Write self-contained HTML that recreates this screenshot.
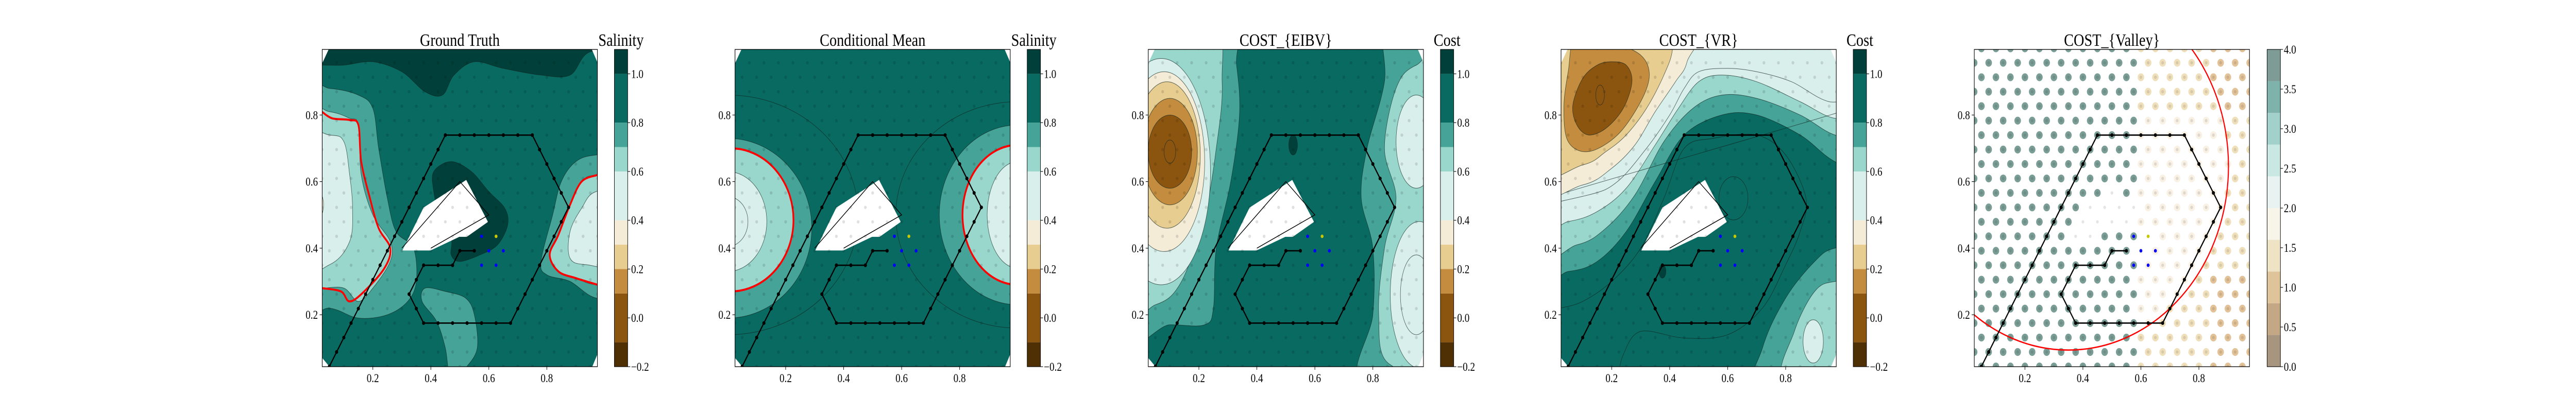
<!DOCTYPE html>
<html><head><meta charset="utf-8"><style>
html,body{margin:0;padding:0;background:#fff;width:100%;height:100%;overflow:hidden;}
svg{display:block;position:absolute;left:0;top:0;width:100vw;height:100vh;font-family:"Liberation Serif","DejaVu Serif",serif;}
</style></head><body>
<svg id="fig" xmlns="http://www.w3.org/2000/svg" viewBox="0 0 6000 800" preserveAspectRatio="none" overflow="hidden">
<rect width="6000" height="800" fill="#fff"/>
</svg>
<script>
const NS='http://www.w3.org/2000/svg';
const svg=document.getElementById('fig');
// ---- data ----
const cols=['#4f3005','#8c550f','#c48c3f','#e7cd90','#f5ecd8','#d9efeb','#99d6cc','#46a398','#086a61','#01403a'];
const cbLevels=[-0.2,-0.1,0.1,0.2,0.3,0.4,0.6,0.7,0.8,1.0,1.1];
const cbTicks=[-0.2,0.0,0.2,0.4,0.6,0.8,1.0];
const cbTickLabels=['\u22120.2','0.0','0.2','0.4','0.6','0.8','1.0'];
const cb5Colors=['#a89580','#c4a785','#dfc49b','#efe3c6','#f7f4ea','#e8f3f1','#c9e8e3','#a2d0cb','#7eb2ab','#7e9c95'];
const cb5Ticks=[0,0.5,1.0,1.5,2.0,2.5,3.0,3.5,4.0];
const cb5TickLabels=['0.0','0.5','1.0','1.5','2.0','2.5','3.0','3.5','4.0'];
const axTicks=[0.2,0.4,0.6,0.8];
const axTickLabels=['0.2','0.4','0.6','0.8'];
const pathVerts=[[0.05,-16],[0.45,0],[0.75,0],[0.875,-5],[0.675,-13],[0.375,-13],[0.325,-11],[0.375,-9],[0.475,-9],[0.5,-8],[0.55,-8]];
const blueDots=[[0.575,-7],[0.6,-8],[0.65,-8],[0.575,-9],[0.625,-9]];
const yellowDot=[0.625,-7];
const obstacle=[[0.302,0.393],[0.399,0.393],[0.498,0.434],[0.524,0.434],[0.597,0.479],[0.522,0.605],[0.375,0.522]];
const obstacleLine=[[0.3,0.4],[0.5,0.6],[0.6,0.5],[0.4,0.4]];
const gtLayers=[
 {c:9,p:[[-0.1,1.1],[1.1,1.1],[1.1,0.98],[0.95,0.99],[0.88,0.92],[0.78,0.92],[0.65,0.94],[0.55,0.96],[0.48,0.92],[0.44,0.86],[0.38,0.87],[0.3,0.93],[0.2,0.96],[0.1,0.95],[0.02,0.95],[-0.1,0.95]]},
 {c:7,p:[[-0.1,0.88],[0.05,0.88],[0.15,0.86],[0.2,0.82],[0.22,0.7],[0.25,0.55],[0.28,0.45],[0.34,0.4],[0.35,0.3],[0.32,0.24],[0.25,0.2],[0.15,0.19],[0.05,0.22],[-0.1,0.22]]},
 {c:6,p:[[-0.1,0.82],[0.05,0.81],[0.12,0.79],[0.15,0.77],[0.16,0.62],[0.2,0.5],[0.26,0.42],[0.26,0.36],[0.2,0.28],[0.15,0.24],[0.1,0.28],[0.02,0.28],[-0.1,0.28]]},
 {c:5,p:[[-0.1,0.74],[0.05,0.74],[0.1,0.72],[0.12,0.62],[0.13,0.52],[0.12,0.42],[0.05,0.35],[-0.1,0.33]]},
 {c:7,p:[[1.1,0.68],[0.97,0.68],[0.9,0.66],[0.85,0.6],[0.82,0.5],[0.78,0.36],[0.8,0.32],[0.88,0.3],[0.97,0.25],[1.1,0.25]]},
 {c:6,p:[[1.1,0.62],[0.97,0.62],[0.92,0.6],[0.88,0.53],[0.84,0.44],[0.81,0.38],[0.84,0.33],[0.9,0.31],[0.97,0.29],[1.1,0.29]]},
 {c:5,p:[[1.1,0.57],[0.97,0.57],[0.92,0.52],[0.88,0.45],[0.88,0.37],[0.94,0.35],[1.1,0.35]]},
 {c:9,p:[[0.41,0.63],[0.47,0.66],[0.54,0.63],[0.6,0.57],[0.655,0.52],[0.665,0.47],[0.63,0.41],[0.57,0.38],[0.5,0.36],[0.47,0.38],[0.47,0.43],[0.43,0.5],[0.41,0.57]]},
 {c:7,p:[[0.38,0.28],[0.45,0.27],[0.52,0.25],[0.55,0.2],[0.56,0.1],[0.52,0.04],[0.47,0.0],[0.45,0.1],[0.42,0.18],[0.37,0.24]]},
 {c:4,e:[0.02,0.53,0.01,0.03]}
];
const gtRed=[
 [[0.024,0.81],[0.06,0.79],[0.12,0.785],[0.15,0.77],[0.16,0.66],[0.19,0.55],[0.22,0.46],[0.26,0.4],[0.24,0.34],[0.17,0.27],[0.12,0.24],[0.09,0.27],[0.024,0.28]],
 [[0.975,0.62],[0.92,0.6],[0.88,0.53],[0.84,0.44],[0.81,0.38],[0.84,0.33],[0.9,0.31],[0.975,0.29]]
];
const cmLayers=[
 {c:-1,e:[0.0,0.5,0.45,0.36]},
 {c:-1,e:[1.0,0.5,0.42,0.34]},
 {c:7,e:[0.0,0.46,0.29,0.27]},
 {c:6,e:[0.01,0.485,0.217,0.215]},
 {c:5,e:[0.0,0.48,0.135,0.15]},
 {c:-1,e:[0.0,0.48,0.07,0.075]},
 {c:7,e:[1.0,0.5,0.27,0.27]},
 {c:6,e:[1.0,0.5,0.19,0.21]},
 {c:5,e:[1.0,0.5,0.105,0.16]}
];
const cmRedE=[[0.01,0.485,0.217,0.215],[1.0,0.5,0.19,0.21]];
const eibvLayers=[
 {c:7,p:[[-0.1,1.1],[0.3,1.1],[0.33,0.95],[0.34,0.8],[0.31,0.6],[0.26,0.4],[0.25,0.22],[0.22,0.17],[0.1,0.17],[-0.1,0.17]]},
 {c:6,p:[[-0.1,1.1],[0.24,1.1],[0.28,0.9],[0.26,0.7],[0.22,0.5],[0.14,0.3],[0.05,0.23],[-0.1,0.23]]},
 {c:5,e:[0.07,0.63,0.17,0.34]},
 {c:4,e:[0.08,0.66,0.14,0.27]},
 {c:3,e:[0.09,0.68,0.115,0.22]},
 {c:2,e:[0.1,0.69,0.095,0.16]},
 {c:1,e:[0.1,0.69,0.075,0.11]},
 {c:-1,e:[0.1,0.69,0.02,0.035]},
 {c:7,p:[[1.1,1.1],[0.85,1.1],[0.84,0.9],[0.78,0.7],[0.76,0.55],[0.8,0.4],[0.8,0.2],[0.76,0.0],[1.1,0.0]]},
 {c:6,p:[[1.1,0.97],[0.95,0.95],[0.88,0.88],[0.84,0.7],[0.88,0.55],[0.84,0.4],[0.82,0.2],[0.86,0.05],[1.1,0.05]]},
 {c:5,e:[0.95,0.72,0.07,0.14]},
 {c:5,e:[0.96,0.26,0.1,0.22]},
 {c:-1,e:[0.95,0.26,0.055,0.12]},
 {c:9,e:[0.525,0.71,0.015,0.03]}
];
const vrLayers=[
 {c:7,p:[[-0.1,1.1],[1.1,1.1],[1.1,0.63],[0.97,0.66],[0.85,0.74],[0.7,0.8],[0.58,0.8],[0.45,0.74],[0.35,0.6],[0.25,0.45],[0.15,0.36],[0.05,0.33],[-0.1,0.33]]},
 {c:6,p:[[-0.1,1.1],[1.1,1.1],[1.1,0.73],[0.97,0.74],[0.85,0.8],[0.7,0.85],[0.58,0.86],[0.48,0.82],[0.38,0.72],[0.28,0.56],[0.18,0.46],[0.08,0.41],[-0.1,0.4]]},
 {c:5,p:[[-0.1,1.1],[1.1,1.1],[1.1,0.8],[0.97,0.79],[0.85,0.84],[0.7,0.9],[0.58,0.92],[0.5,0.9],[0.43,0.82],[0.35,0.71],[0.25,0.58],[0.15,0.51],[0.05,0.48],[-0.1,0.47]]},
 {c:-1,p:[[1.1,0.84],[0.95,0.84],[0.82,0.9],[0.7,0.93],[0.6,0.94],[0.5,0.93],[0.45,0.88],[0.4,0.8],[0.32,0.7],[0.22,0.6],[0.12,0.56],[-0.1,0.53]]},
 {c:4,p:[[-0.1,1.1],[0.48,1.1],[0.46,0.96],[0.42,0.9],[0.35,0.81],[0.28,0.71],[0.2,0.64],[0.1,0.59],[-0.1,0.58]]},
 {c:3,p:[[-0.1,1.1],[0.4,1.1],[0.41,1.0],[0.38,0.92],[0.32,0.82],[0.25,0.74],[0.18,0.69],[0.1,0.65],[-0.1,0.63]]},
 {c:2,p:[[0.08,1.05],[0.2,1.02],[0.3,0.98],[0.33,0.92],[0.3,0.84],[0.22,0.74],[0.12,0.69],[0.05,0.72],[0.035,0.82],[0.05,0.93]]},
 {c:1,p:[[0.2,0.96],[0.25,0.95],[0.27,0.9],[0.24,0.82],[0.18,0.76],[0.12,0.74],[0.08,0.77],[0.066,0.83],[0.1,0.91],[0.15,0.95]]},
 {c:-1,e:[0.16,0.86,0.015,0.03]},
 {c:7,p:[[1.1,0.4],[0.97,0.4],[0.9,0.36],[0.8,0.25],[0.72,0.1],[0.68,-0.1],[1.1,-0.1]]},
 {c:6,p:[[1.1,0.3],[0.97,0.3],[0.9,0.27],[0.83,0.15],[0.8,0.0],[1.1,0.0]]},
 {c:5,e:[0.895,0.12,0.035,0.065]},
 {c:-1,e:[0.62,0.55,0.05,0.065]},
 {c:-1,p:[[0.024,0.22],[0.1,0.24],[0.2,0.3],[0.3,0.4],[0.38,0.55],[0.45,0.7],[0.55,0.73],[0.7,0.74],[0.8,0.68],[0.87,0.55],[0.85,0.45],[0.8,0.35],[0.72,0.22],[0.6,0.14],[0.45,0.13],[0.3,0.15],[0.24,0.08],[0.22,0.0]],open:true},
 {c:9,e:[0.375,0.33,0.012,0.02]}
];
const valleyMissing=[[0.425,-5],[0.475,-5],[0.525,-5],[0.575,-5],[0.4,-6],[0.45,-6],[0.5,-6],[0.55,-6],[0.375,-7],[0.425,-7],[0.5,-4],[0.6,-8],[0.625,-7]];
const valleyCircle=[0.35,0.646,0.552];
const valleySplitX=0.58;
// ---- layout ----
const TOP=96,H=616,W=641,YD=[0.044,0.997],XD=[0.0254,0.9745];
const panels=[
 {id:'ground-truth',left:750.5,title:'Ground Truth',cbt:'Salinity',layers:gtLayers},
 {id:'conditional-mean',left:1712,title:'Conditional Mean',cbt:'Salinity',layers:cmLayers},
 {id:'cost-eibv',left:2674.5,title:'COST_{EIBV}',cbt:'Cost',layers:eibvLayers},
 {id:'cost-vr',left:3636,title:'COST_{VR}',cbt:'Cost',layers:vrLayers},
 {id:'cost-valley',left:4598.5,title:'COST_{Valley}',cbt:'',layers:null}
];
function mk(tag,attrs,parent){const el=document.createElementNS(NS,tag);for(const k in attrs)el.setAttribute(k,attrs[k]);(parent||svg).appendChild(el);return el;}
function rowY(k){return 0.7397+0.04344*k;}
function smooth(P,closed){
 const n=P.length;let d='M'+P[0][0].toFixed(1)+','+P[0][1].toFixed(1);
 const seg=closed?n:n-1;
 for(let i=0;i<seg;i++){
  const p0=closed?P[(i-1+n)%n]:P[Math.max(i-1,0)],p1=P[i],p2=P[(i+1)%n],p3=closed?P[(i+2)%n]:P[Math.min(i+2,n-1)];
  const c1=[p1[0]+(p2[0]-p0[0])/6,p1[1]+(p2[1]-p0[1])/6],c2=[p2[0]-(p3[0]-p1[0])/6,p2[1]-(p3[1]-p1[1])/6];
  d+='C'+c1[0].toFixed(1)+','+c1[1].toFixed(1)+' '+c2[0].toFixed(1)+','+c2[1].toFixed(1)+' '+p2[0].toFixed(1)+','+p2[1].toFixed(1);
 }
 return d+(closed?'Z':'');
}
function txt(s,x,y,size,anchor,name){const t=mk('text',{x:x,y:y,'font-size':size,'text-anchor':anchor,fill:'#000'});t.textContent=s;
 
 
 return t;}

panels.forEach((pn,pi)=>{
 const X=v=>pn.left+(v-XD[0])/(XD[1]-XD[0])*W;
 const Y=v=>TOP+(YD[1]-v)/(YD[1]-YD[0])*H;
 const sx=W/(XD[1]-XD[0]),sy=H/(YD[1]-YD[0]);
 const g=mk('g',{});
 
 
 const cp=mk('clipPath',{id:'clip'+pi},g);
 mk('rect',{x:pn.left,y:TOP,width:W,height:H},cp);
 const plot=mk('g',{'clip-path':'url(#clip'+pi+')'},g);
 
 
 if(pn.layers){
  const base=mk('rect',{x:pn.left,y:TOP,width:W,height:H,fill:cols[8]},plot);
  
  
  pn.layers.forEach(L=>{
   const fill=L.c<0?'none':cols[L.c];
   let el;
   if(L.e){el=mk('ellipse',{cx:X(L.e[0]),cy:Y(L.e[1]),rx:L.e[2]*sx,ry:L.e[3]*sy,fill:fill,stroke:'#102420','stroke-width':1,'stroke-opacity':0.7},plot);}
   else{el=mk('path',{d:smooth(L.p.map(p=>[X(p[0]),Y(p[1])]),!L.open),fill:fill,stroke:'#102420','stroke-width':1,'stroke-opacity':0.7},plot);}
   
   
  });
  if(pi===0){gtRed.forEach(r=>{const el=mk('path',{d:smooth(r.map(p=>[X(p[0]),Y(p[1])]),false),fill:'none',stroke:'#ff0000','stroke-width':4},plot);
   
   });}
  if(pi===1){cmRedE.forEach(e=>{const el=mk('ellipse',{cx:X(e[0]),cy:Y(e[1]),rx:e[2]*sx,ry:e[3]*sy,fill:'none',stroke:'#ff0000','stroke-width':4},plot);
   
   });}
  const ob=mk('polygon',{points:obstacle.map(p=>X(p[0])+','+Y(p[1])).join(' '),fill:'#fff'},plot);
  
  
  const ol=mk('polyline',{points:obstacleLine.map(p=>X(p[0])+','+Y(p[1])).join(' '),fill:'none',stroke:'#000','stroke-width':1.5},plot);
  
  
  const L=pn.left,R=pn.left+W,B=TOP+H;
  [[L,TOP,L+15,TOP,L,TOP+27],[L,B,L,B-17,L+17,B],[R,TOP,R-13,TOP,R,TOP+25],[R,B,R,B-24,R-12,B]].forEach(c=>{
   const el=mk('polygon',{points:c[0]+','+c[1]+' '+c[2]+','+c[3]+' '+c[4]+','+c[5],fill:'#fff'},plot);
   
   
  });
 } else {
  for(let k=-16;k<=6;k++){
   const off=(k%2===0)?0:0.025;
   for(let x=off;x<=1.0001;x+=0.05){
    const xv=Math.round(x*1000)/1000,y=rowY(k);
    if(valleyMissing.some(m=>Math.abs(m[0]-xv)<1e-6&&m[1]===k))continue;
    let col;
    const inC=Math.pow((xv-valleyCircle[0])/valleyCircle[2],2)+Math.pow((y-valleyCircle[1])/valleyCircle[2],2)<1;
    if(xv<valleySplitX)col='#6f958c';
    else if(inC&&y<0.82)col='#f7f0e2';
    else if(!inC&&xv>=0.84&&(y>0.8||y<0.33))col='#dfbd8f';
    else col='#eedcb5';
    const d=mk('circle',{cx:X(xv),cy:Y(y),r:7.6,fill:col,'fill-opacity':0.92},plot);
    
    
   }
  }
  const rc=mk('ellipse',{cx:X(valleyCircle[0]),cy:Y(valleyCircle[1]),rx:valleyCircle[2]*sx,ry:valleyCircle[2]*sy,fill:'none',stroke:'#ff0000','stroke-width':2.6},plot);
  
  
 }
 for(let k=-16;k<=6;k++){
  const off=(k%2===0)?0:0.025;
  for(let x=off;x<=1.0001;x+=0.05){
   const d=mk('circle',{cx:X(x),cy:Y(rowY(k)),r:3.2,fill:'#000','fill-opacity':pn.layers?0.12:0.1},plot);
   
   
  }
 }
 const pts=[];
 for(let i=0;i<pathVerts.length-1;i++){
  const a=pathVerts[i],b=pathVerts[i+1];
  const n=Math.round(Math.max(Math.abs(b[1]-a[1]),Math.abs(b[0]-a[0])/0.05));
  for(let s=0;s<n;s++)pts.push([a[0]+(b[0]-a[0])*s/n,a[1]+(b[1]-a[1])*s/n]);
 }
 pts.push(pathVerts[pathVerts.length-1]);
 const pl=mk('polyline',{points:pts.map(p=>X(p[0])+','+Y(rowY(p[1]))).join(' '),fill:'none',stroke:'#000','stroke-width':2.6},plot);
 
 
 pts.forEach(p=>{const c=mk('circle',{cx:X(p[0]),cy:Y(rowY(p[1])),r:3.6,fill:'#000'},plot);
  
  });
 blueDots.forEach(p=>{const c=mk('circle',{cx:X(p[0]),cy:Y(rowY(p[1])),r:3.4,fill:'#0000ff'},plot);
  
  });
 const yd=mk('circle',{cx:X(yellowDot[0]),cy:Y(rowY(yellowDot[1])),r:3.4,fill:'#c8c800'},plot);
 
 
 const fr=mk('rect',{x:pn.left,y:TOP,width:W,height:H,fill:'none',stroke:'#000','stroke-width':1.3},g);
 
 
 axTicks.forEach((t,i)=>{
  mk('line',{x1:X(t),x2:X(t),y1:TOP+H,y2:TOP+H+6,stroke:'#000','stroke-width':1.1},g);
  txt(axTickLabels[i],X(t),742,23,'middle','x-tick-label');
  mk('line',{x1:pn.left-6,x2:pn.left,y1:Y(t),y2:Y(t),stroke:'#000','stroke-width':1.1},g);
  txt(axTickLabels[i],pn.left-10,Y(t)+8,23,'end','y-tick-label');
 });
 txt(pn.title,pn.left+W/2,89,34,'middle','panel-title');
 const cbx=pn.left+(pn.layers?680.5:682),cbw=31;
 const cbg=mk('g',{});
 
 
 if(pn.layers){
  const CY=v=>TOP+H-(v-cbLevels[0])/(cbLevels[cbLevels.length-1]-cbLevels[0])*H;
  for(let i=0;i<cbLevels.length-1;i++){const r=mk('rect',{x:cbx,y:CY(cbLevels[i+1]),width:cbw,height:CY(cbLevels[i])-CY(cbLevels[i+1]),fill:cols[i]},cbg);
   
   }
  cbTicks.forEach((t,i)=>{mk('line',{x1:cbx+cbw,x2:cbx+cbw+6,y1:CY(t),y2:CY(t),stroke:'#000','stroke-width':1.1},cbg);
   txt(cbTickLabels[i],cbx+cbw+8,CY(t)+8,23,'start','colorbar-tick-label');});
  txt(pn.cbt,cbx+cbw/2,89,34,'middle','colorbar-title');
 } else {
  const CY=v=>TOP+H-v/4*H;
  for(let i=0;i<cb5Colors.length;i++){const r=mk('rect',{x:cbx,y:CY((i+1)*0.4),width:cbw,height:CY(i*0.4)-CY((i+1)*0.4),fill:cb5Colors[i]},cbg);
   
   }
  cb5Ticks.forEach((t,i)=>{mk('line',{x1:cbx+cbw,x2:cbx+cbw+6,y1:CY(t),y2:CY(t),stroke:'#000','stroke-width':1.1},cbg);
   txt(cb5TickLabels[i],cbx+cbw+8,CY(t)+8,23,'start','colorbar-tick-label');});
 }
 mk('rect',{x:cbx,y:TOP,width:cbw,height:H,fill:'none',stroke:'#000','stroke-width':1.1},cbg);
});
</script>
</body></html>
